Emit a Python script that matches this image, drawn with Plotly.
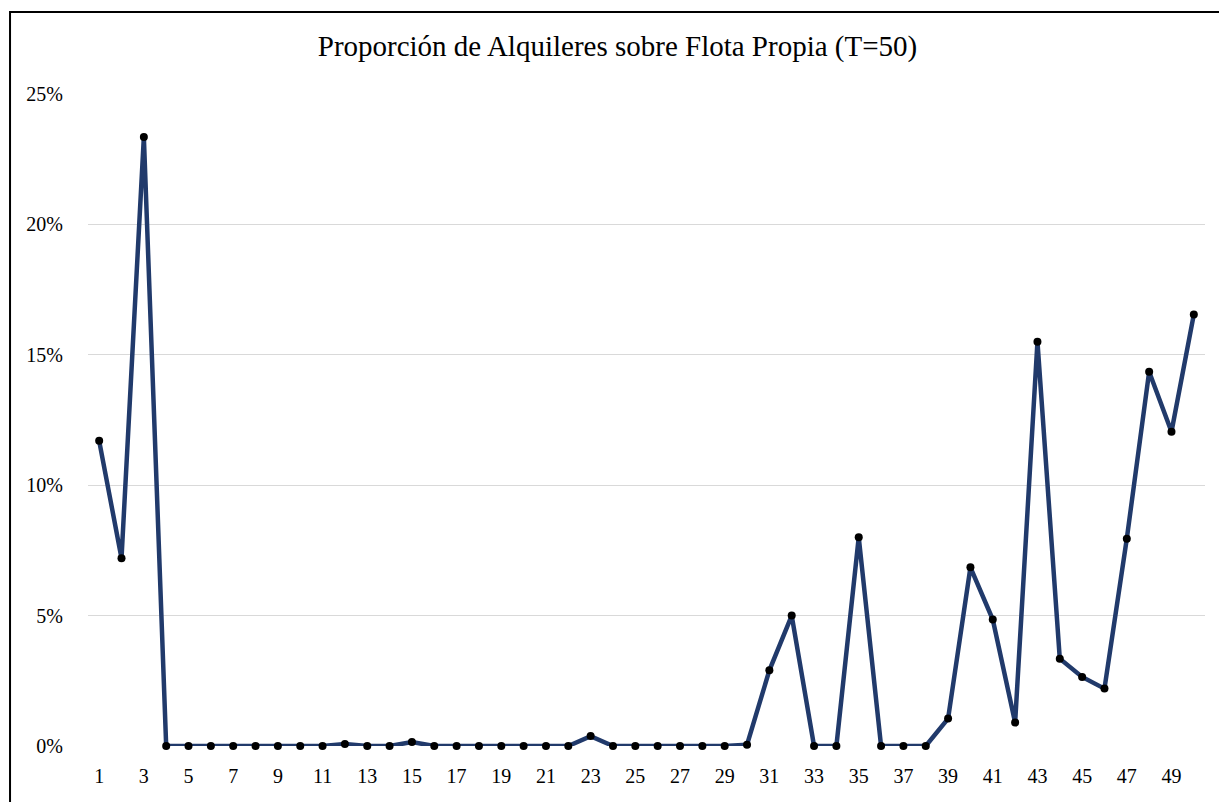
import plotly.graph_objects as go

periods = list(range(1, 51))
rental_share = [
    0.1170, 0.0720, 0.2335, 0.0, 0.0, 0.0, 0.0, 0.0, 0.0, 0.0,
    0.0, 0.0008, 0.0, 0.0, 0.0015, 0.0, 0.0, 0.0, 0.0, 0.0,
    0.0, 0.0, 0.0038, 0.0, 0.0, 0.0, 0.0, 0.0, 0.0, 0.0005,
    0.0290, 0.0500, 0.0, 0.0, 0.0800, 0.0, 0.0, 0.0, 0.0105, 0.0685,
    0.0485, 0.0090, 0.1550, 0.0335, 0.0265, 0.0220, 0.0795, 0.1435, 0.1205, 0.1655,
]
x_ticks = list(range(1, 51, 2))
y_ticks = [0, 0.05, 0.10, 0.15, 0.20, 0.25]
title = 'Proporción de Alquileres sobre Flota Propia (T=50)'

serif = 'Liberation Serif, Times New Roman, serif'

fig = go.Figure()
fig.add_trace(go.Scatter(
    x=periods,
    y=rental_share,
    mode='lines+markers',
    line=dict(color='#213a6b', width=4.5),
    marker=dict(color='black', size=8),
    cliponaxis=False,
    showlegend=False,
))

# chart frame (like the Excel chart border)
fig.add_shape(
    type='rect', xref='paper', yref='paper',
    x0=-0.0698, x1=1.05, y0=-0.2, y1=1.1258,
    line=dict(color='black', width=2),
)

# page body has an 8px margin, so the figure is a bit smaller than the window
fig.update_layout(
    width=1219,
    height=794,
    paper_bgcolor='white',
    plot_bgcolor='white',
    margin=dict(l=80, r=22, t=86, b=56),
    title=dict(
        text=title,
        x=0.5, xref='container', xanchor='center',
        y=1 - 38 / 794, yanchor='middle',
        font=dict(family=serif, size=29, color='black'),
    ),
    xaxis=dict(
        range=[0.5, 50.5],
        tickvals=x_ticks,
        ticktext=[str(v) for v in x_ticks],
        showgrid=False,
        zeroline=False,
        showline=False,
        ticks='',
        ticklabelstandoff=16,
        tickfont=dict(family=serif, size=20, color='black'),
    ),
    yaxis=dict(
        range=[0, 0.25],
        tickvals=y_ticks,
        tickformat='.0%',
        showgrid=True,
        gridcolor='#d9d9d9',
        gridwidth=1,
        zeroline=False,
        showline=False,
        ticks='',
        ticklabelstandoff=24,
        tickfont=dict(family=serif, size=20, color='black'),
    ),
)

fig.write_html('out.html')
